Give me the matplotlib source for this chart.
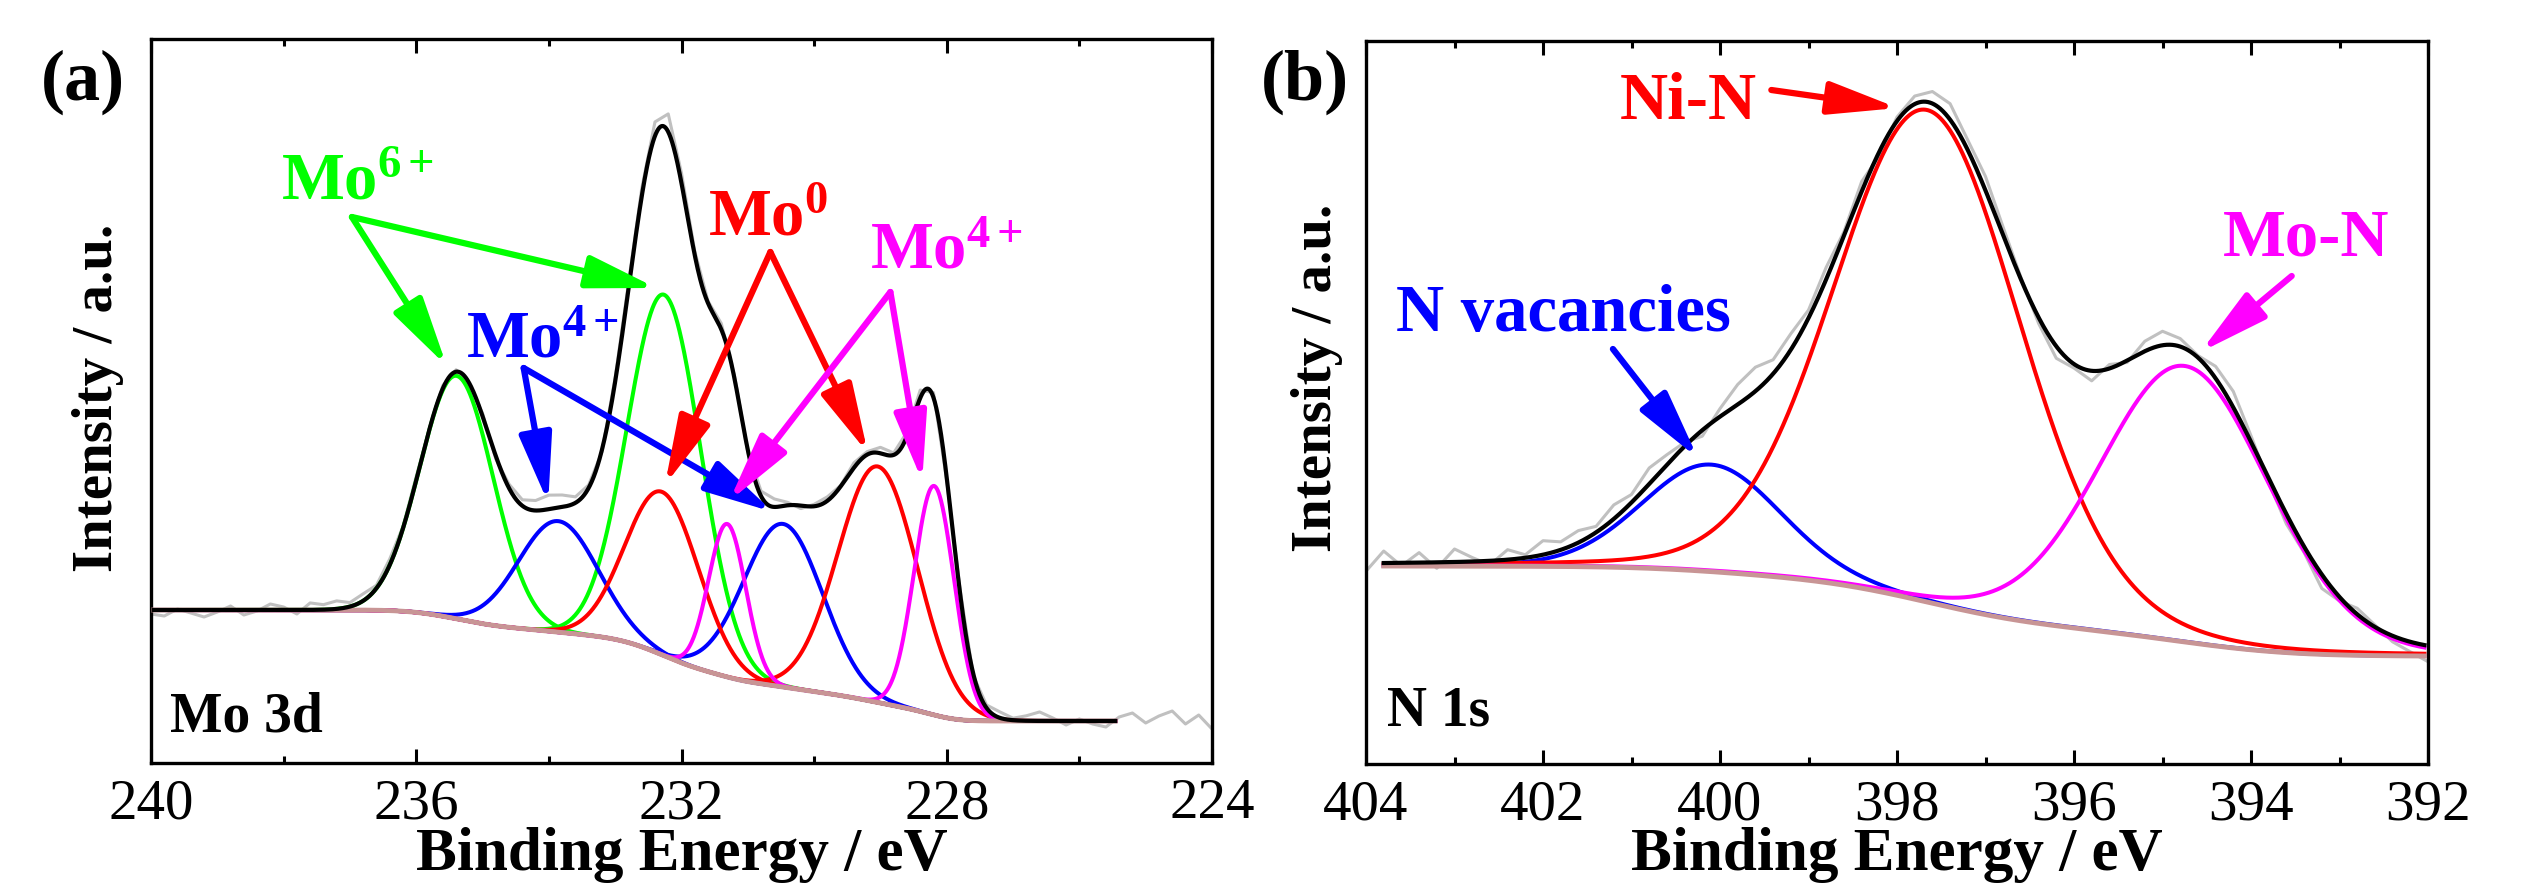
import math
import numpy as np
import matplotlib
matplotlib.use('Agg')
import matplotlib.pyplot as plt
from matplotlib.ticker import MultipleLocator

plt.rcParams['font.family'] = ['Liberation Serif', 'DejaVu Serif']
plt.rcParams['mathtext.fontset'] = 'custom'
plt.rcParams['mathtext.rm'] = 'Liberation Serif'
plt.rcParams['mathtext.bf'] = 'Liberation Serif:bold'
plt.rcParams['mathtext.it'] = 'Liberation Serif:italic'

# ---------------- Panel (a): Mo 3d ----------------
a_peak_state = ['Mo6+', 'Mo6+', 'Mo4+', 'Mo4+', 'Mo0', 'Mo0', 'Mo4+', 'Mo4+']
a_center = [235.39, 232.26, 233.86, 230.47, 232.29, 229.04, 231.31, 228.19]
a_height = [243, 361, 111, 163, 163, 236, 153, 229]
a_fwhm = [1.30, 1.30, 1.41, 1.41, 1.30, 1.41, 0.66, 0.71]
a_color = ['#00ff00', '#00ff00', '#0000ff', '#0000ff',
           '#ff0000', '#ff0000', '#ff00ff', '#ff00ff']
a_eta = 0.0
a_bg_high = 153
a_bg_low = 42
a_fit_range = (225.46, 239.96)
a_raw_start, a_raw_step = 240.0, -0.2
a_raw_offset = [-4, -6, 1, -3, -7, -2, 4, -5, -1, 6, 3, -4, 7, 5, 8, 4,
                7, 3, 6, 2, 4, 1, 3, 2, -2, 3, -3, 4, 6, 10, 14, 12,
                6, 3, -2, 4, 6, 8, 14, 18, 10, 4, 2, 6, 3, -2, 5, 8,
                3, -3, 2, 4, 1, 5, 3, 6, 2, 4, 8, 5, -3, 4, -2, 3,
                6, 2, 5, 9, 3, -4, 2, -3, -6, 4, 8, -2, 5, 10, -3, 6, -8]

# ---------------- Panel (b): N 1s ----------------
b_peak_state = ['N vacancies', 'Ni-N', 'Mo-N']
b_center = [400.10, 397.66, 394.75]
b_height = [107, 492, 276]
b_fwhm = [1.85, 2.48, 2.25]
b_color = ['#0000ff', '#ff0000', '#ff00ff']
b_eta = 0.1
b_bg_high = 198
b_bg_low = 108
b_fit_range = (392.04, 403.80)
b_raw_start, b_raw_step = 404.0, -0.2
b_raw_offset = [-8, 12, -3, 10, -6, 13, 4, -4, 10, 3, 14, 8, 12, 6, 14, 8,
                16, 10, 4, -6, 8, 20, 24, 14, 16, 8, 12, 4, 10, -4, 4, 8,
                12, 16, 10, 14, 8, 2, -6, -12, -4, -10, 4, -2, 10, 14, 8, 2,
                12, 16, 6, -4, -10, -6, -14, -4, 6, 2, -6, -10, -16]

erf = np.vectorize(math.erf)


def pv(E, c, h, w, eta):
    x = (E - c) / w
    return h * ((1 - eta) * np.exp(-4 * np.log(2) * x ** 2) + eta / (1 + 4 * x ** 2))


def pv_cdf(E, c, h, w, eta):
    ag = h * (1 - eta) * w * np.sqrt(np.pi / (4 * np.log(2)))
    al = h * eta * np.pi * w / 2
    return (ag * 0.5 * (1 + erf(2 * np.sqrt(np.log(2)) * (E - c) / w))
            + al * (0.5 + np.arctan(2 * (E - c) / w) / np.pi))


def model(E, centers, heights, fwhms, eta, hi, lo, rng):
    Emin, Emax = rng
    F = sum(pv_cdf(E, c, h, w, eta) for c, h, w in zip(centers, heights, fwhms))
    Fmin = sum(pv_cdf(np.array([Emin]), c, h, w, eta) for c, h, w in zip(centers, heights, fwhms))
    Fmax = sum(pv_cdf(np.array([Emax]), c, h, w, eta) for c, h, w in zip(centers, heights, fwhms))
    frac = np.clip((F - Fmin) / (Fmax - Fmin), 0, 1)
    bg = lo + (hi - lo) * frac
    comps = [pv(E, c, h, w, eta) for c, h, w in zip(centers, heights, fwhms)]
    return bg, comps


fig = plt.figure(figsize=(25.26, 8.83), dpi=100)
axA = fig.add_axes([151 / 2526, 120 / 883, 1061 / 2526, 724 / 883])
axB = fig.add_axes([1366 / 2526, 119 / 883, 1062 / 2526, 723 / 883])

LW_RAW, LW_COMP, LW_ENV, LW_BG = 2.2, 2.9, 3.0, 3.5
C_RAW, C_BG = '#c0c0c0', '#c89595'


def draw_panel(ax, centers, heights, fwhms, colors, eta, hi, lo, rng,
               raw_start, raw_step, raw_offset):
    E = np.linspace(rng[1], rng[0], 2000)
    bg, comps = model(E, centers, heights, fwhms, eta, hi, lo, rng)
    Er = raw_start + raw_step * np.arange(len(raw_offset))
    bgr, compsr = model(Er, centers, heights, fwhms, eta, hi, lo, rng)
    raw = bgr + sum(compsr) + np.array(raw_offset)
    ax.plot(Er, raw, color=C_RAW, lw=LW_RAW, zorder=1, solid_joinstyle='round')
    for comp, col in zip(comps, colors):
        ax.plot(E, bg + comp, color=col, lw=LW_COMP, zorder=2)
    ax.plot(E, bg, color=C_BG, lw=LW_BG, zorder=3)
    ax.plot(E, bg + sum(comps), color='black', lw=LW_ENV, zorder=4)


draw_panel(axA, a_center, a_height, a_fwhm, a_color, a_eta, a_bg_high, a_bg_low,
           a_fit_range, a_raw_start, a_raw_step, a_raw_offset)
draw_panel(axB, b_center, b_height, b_fwhm, b_color, b_eta, b_bg_high, b_bg_low,
           b_fit_range, b_raw_start, b_raw_step, b_raw_offset)

# axes styling
for ax, (xl, xr), major, minor, ylab_xy, ymax, xlab_y in [
        (axA, (240, 224), 4, 2, (-0.0368, 0.504), 724, -0.1478),
        (axB, (404, 392), 2, 1, (-0.033, 0.534), 723, -0.1466)]:
    ax.set_xlim(xl, xr)
    ax.set_ylim(0, ymax)
    ax.xaxis.set_major_locator(MultipleLocator(major))
    ax.xaxis.set_minor_locator(MultipleLocator(minor))
    ax.tick_params(axis='x', which='both', direction='in', top=True, bottom=True,
                   labelsize=41, pad=11)
    ax.tick_params(axis='x', which='major', length=10, width=2.2)
    ax.tick_params(axis='x', which='minor', length=5, width=2.2)
    ax.tick_params(axis='y', left=False, right=False, labelleft=False)
    for s in ax.spines.values():
        s.set_linewidth(2.4)
    ax.set_xlabel('Binding Energy / eV', fontsize=44, fontweight='bold')
    ax.xaxis.set_label_coords(0.5, xlab_y)
    ax.xaxis.label.set_va('baseline')
    ax.set_ylabel('Intensity / a.u.', fontsize=41, fontweight='bold')
    ax.yaxis.set_label_coords(*ylab_xy)
    ax.yaxis.label.set_va('baseline')

ARROW = dict(arrowstyle='-|>,head_length=2.1,head_width=0.5', lw=4.5,
             shrinkA=0, shrinkB=0, mutation_scale=20)


def arrow(ax, tail, tip, color):
    ax.annotate('', xy=tip, xytext=tail,
                arrowprops=dict(ARROW, color=color), zorder=6)


LBL = 48
# Panel (a) annotations
axA.text(238.04, 563, r'$\mathbf{Mo^{6+}}$', color='#00ff00', fontsize=LBL,
         ha='left', va='baseline', zorder=6)
arrow(axA, (236.97, 546), (235.54, 397), '#00ff00')
arrow(axA, (236.97, 546), (232.38, 475), '#00ff00')

axA.text(235.25, 406, r'$\mathbf{Mo^{4+}}$', color='#0000ff', fontsize=LBL,
         ha='left', va='baseline', zorder=6)
arrow(axA, (234.38, 395), (234.01, 260), '#0000ff')
arrow(axA, (234.38, 395), (230.62, 251), '#0000ff')

axA.text(231.60, 527, r'$\mathbf{Mo^{0}}$', color='#ff0000', fontsize=LBL,
         ha='left', va='baseline', zorder=6)
arrow(axA, (230.66, 511), (232.25, 278), '#ff0000')
arrow(axA, (230.66, 511), (229.19, 310), '#ff0000')

axA.text(229.16, 495, r'$\mathbf{Mo^{4+}}$', color='#ff00ff', fontsize=LBL,
         ha='left', va='baseline', zorder=6)
arrow(axA, (228.85, 471), (231.28, 262), '#ff00ff')
arrow(axA, (228.85, 471), (228.37, 282), '#ff00ff')

axA.text(239.71, 31, 'Mo 3d', fontsize=40, fontweight='bold', ha='left',
         va='baseline', zorder=6)

# Panel (b) annotations
axB.text(401.13, 645, 'Ni-N', color='#ff0000', fontsize=LBL, fontweight='bold',
         ha='left', va='baseline', zorder=6)
arrow(axB, (399.42, 674), (397.99, 656), '#ff0000')

axB.text(403.66, 433, 'N vacancies', color='#0000ff', fontsize=LBL,
         fontweight='bold', ha='left', va='baseline', zorder=6)
arrow(axB, (401.21, 415), (400.25, 306), '#0000ff')

axB.text(394.32, 509, 'Mo-N', color='#ff00ff', fontsize=LBL, fontweight='bold',
         ha='left', va='baseline', zorder=6)
arrow(axB, (393.54, 488), (394.57, 412), '#ff00ff')

axB.text(403.76, 38, 'N 1s', fontsize=40, fontweight='bold', ha='left',
         va='baseline', zorder=6)

fig.text(83 / 2526, 1 - 100 / 883, '(a)', fontsize=52, fontweight='bold',
         ha='center', va='baseline')
fig.text(1305 / 2526, 1 - 100 / 883, '(b)', fontsize=52, fontweight='bold',
         ha='center', va='baseline')

fig.savefig('out.png', dpi=100)
